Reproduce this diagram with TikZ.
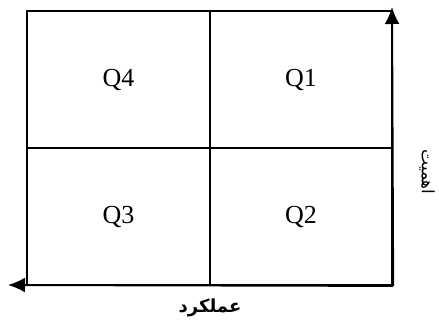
\documentclass[tikz,border=0pt]{standalone}
\usepackage{fontspec}
\setmainfont{Liberation Serif}
\newfontfamily\arabicfont[Script=Arabic]{DejaVu Sans}
\TeXXeTstate=1
\usetikzlibrary{positioning, arrows.meta}

\begin{document}
\begin{tikzpicture}[
  x=1pt, y=1pt,
  quad/.style={draw, line width=1.8pt, minimum width=182.5pt, minimum height=137pt, inner sep=0pt, font=\fontsize{26}{30}\selectfont},
  axis/.style={line width=2pt, -{Latex[length=17pt, width=15pt]}},
  axislabel/.style={font=\arabicfont\bfseries\fontsize{18}{22}\selectfont},
]
  \useasboundingbox (0,0) rectangle (439,322);
  % four quadrants
  \node[quad] (q4) at (118.5, 242.5) {Q4};
  \node[quad] (q1) at (301, 242.5)   {Q1};
  \node[quad] (q3) at (118.5, 105.5) {Q3};
  \node[quad] (q2) at (301, 105.5)   {Q2};
  % axes
  \coordinate (origin) at (q2.south east);
  \coordinate (yend) at (392, 315);
  \coordinate (xend) at (8, 37);
  \draw[axis] (origin) -- (yend);
  \draw[axis] (origin) -- (xend);
  \node[axislabel] (perf) at (210, 14) {\beginR عملکرد\endR};
  \node[font=\arabicfont\fontsize{17}{20}\selectfont, rotate=-90] (imp) at (427, 150) {\beginR اهمیت\endR};
\end{tikzpicture}
\end{document}
